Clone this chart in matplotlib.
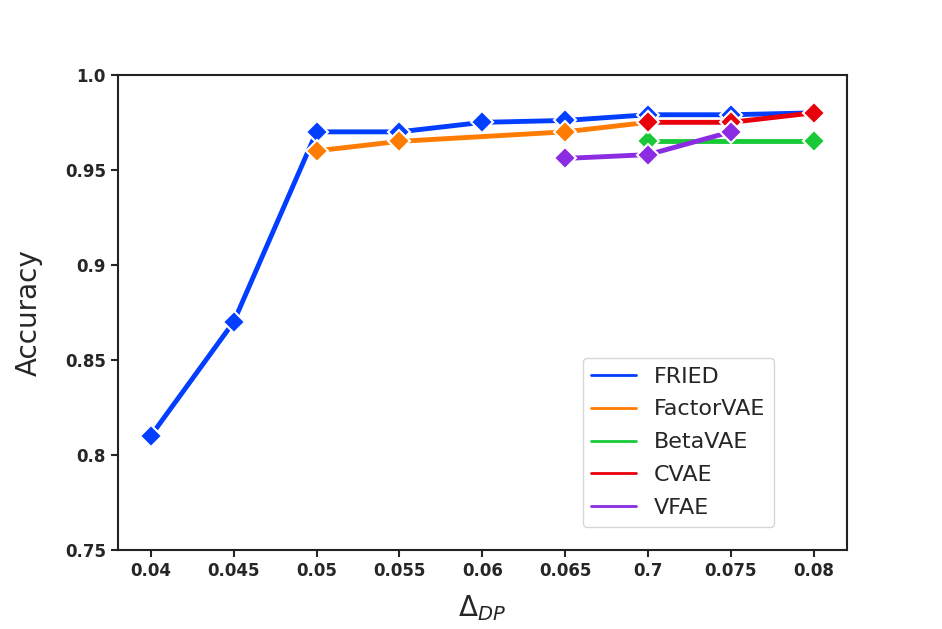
import numpy as np
import matplotlib
matplotlib.use("Agg")
import matplotlib.pyplot as plt
import seaborn as sns

sns.set_style("ticks")
pal = sns.color_palette("bright")

xlabels = ["0.04", "0.045", "0.05", "0.055", "0.06", "0.065", "0.7", "0.075", "0.08"]

fried_x = [0, 1, 2, 3, 4, 5, 6, 7, 8]
fried_y = [0.81, 0.87, 0.97, 0.97, 0.975, 0.976, 0.979, 0.979, 0.98]

factor_x = [2, 3, 5, 6]
factor_y = [0.96, 0.965, 0.97, 0.975]

beta_x = [6, 8]
beta_y = [0.965, 0.965]

cvae_x = [6, 7, 8]
cvae_y = [0.975, 0.975, 0.98]

vfae_x = [5, 6, 7]
vfae_y = [0.956, 0.958, 0.97]

series = [("FRIED", fried_x, fried_y, pal[0]),
          ("FactorVAE", factor_x, factor_y, pal[1]),
          ("BetaVAE", beta_x, beta_y, pal[2]),
          ("CVAE", cvae_x, cvae_y, pal[3]),
          ("VFAE", vfae_x, vfae_y, pal[4])]

fig = plt.figure(figsize=(9.42, 6.29), dpi=100)
ax = fig.add_axes([0.125, 0.126, 0.774, 0.755])

for name, xs, ys, c in series:
    ax.plot(xs, ys, color=c, lw=3.5, marker="D", ms=11,
            markeredgecolor="white", markeredgewidth=1.5, label=name)

ax.set_xlim(-0.4, 8.4)
ax.set_ylim(0.75, 1.0)
ax.set_xticks(range(len(xlabels)))
ax.set_xticklabels(xlabels)
ax.set_yticks([0.75, 0.8, 0.85, 0.9, 0.95, 1.0])
ax.set_yticklabels(["0.75", "0.8", "0.85", "0.9", "0.95", "1.0"])
for lab in ax.get_xticklabels() + ax.get_yticklabels():
    lab.set_fontweight("bold")
    lab.set_fontsize(12)
ax.tick_params(width=1.5, length=5)
for s in ax.spines.values():
    s.set_linewidth(1.5)
    s.set_color("#222222")

ax.set_ylabel("Accuracy", fontsize=20, labelpad=16)
ax.set_xlabel(r"$\Delta_{DP}$", fontsize=20, labelpad=10)

leg = ax.legend(loc="lower right", bbox_to_anchor=(0.9, 0.048), fontsize=16,
                handlelength=2.0, labelspacing=0.58, borderaxespad=0)
for h in leg.get_lines():
    h.set_marker("")
    h.set_linewidth(2)

fig.savefig("out.png", dpi=100)
